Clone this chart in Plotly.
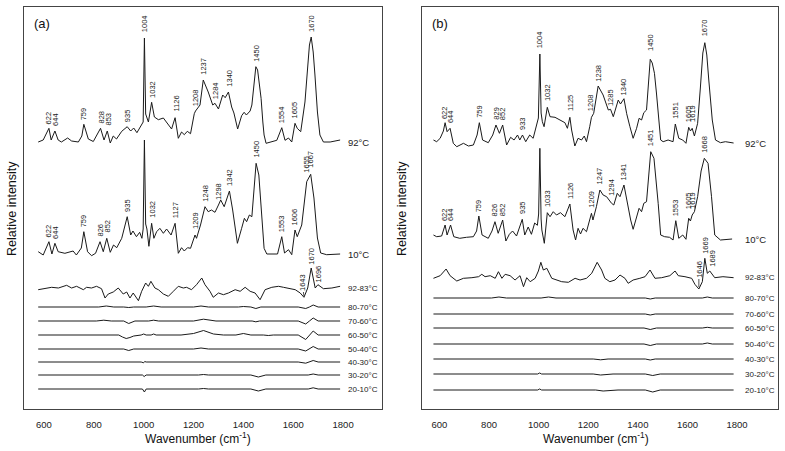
import plotly.graph_objects as go
from plotly.subplots import make_subplots

# ---------------- Panel (a) data ----------------
a92_wn = [577, 597, 620, 629, 644, 657, 670, 695, 711, 738, 752, 760, 778, 798, 827, 841, 854, 866, 878, 891, 912, 934, 948, 960, 973, 989, 998, 1003, 1008, 1019, 1032, 1043, 1059, 1079, 1099, 1112, 1126, 1139, 1152, 1163, 1175, 1188, 1203, 1208, 1226, 1239, 1259, 1277, 1286, 1300, 1317, 1327, 1340, 1353, 1362, 1377, 1393, 1403, 1412, 1427, 1434, 1442, 1450, 1457, 1463, 1471, 1478, 1483, 1491, 1514, 1534, 1554, 1567, 1581, 1594, 1607, 1616, 1630, 1647, 1657, 1665, 1672, 1680, 1687, 1697, 1707, 1721, 1748, 1788]
a92_int = [0, 2, 13.7, 2, 11, 2, 0, 4, 1, 0, 6, 17.7, 3, 0.5, 13.7, 2, 11, -1, 6, 3, 10.7, 15.3, 11, 14, 9.3, 17, 20, 104, 28, 20, 39.7, 25, 22.3, 24, 16.7, 13, 24.3, 3.7, 10, 7.3, 10.7, 8.3, 28.3, 31, 37, 62, 50, 37, 38.7, 33, 47, 44.3, 50, 35, 29, 13, 26.3, 29.7, 27, 31, 37, 60, 75.3, 72, 60, 43.7, 20, 7, -1.3, 0, 1.7, 14.3, 1.7, 4, 0, 18.7, 13.7, 10.3, 40, 72, 97, 105, 90, 67, 30, 7, 0, 0, 2]

a10_wn = [577, 597, 620, 632, 644, 657, 684, 717, 730, 750, 760, 775, 791, 807, 825, 838, 852, 866, 879, 892, 912, 934, 948, 957, 971, 984, 993, 998, 1003, 1008, 1013, 1021, 1032, 1041, 1052, 1065, 1079, 1092, 1110, 1126, 1139, 1152, 1163, 1176, 1188, 1206, 1212, 1228, 1246, 1259, 1272, 1286, 1300, 1309, 1323, 1344, 1357, 1376, 1393, 1404, 1413, 1424, 1434, 1442, 1451, 1462, 1471, 1483, 1494, 1514, 1537, 1554, 1565, 1581, 1594, 1607, 1616, 1634, 1645, 1654, 1662, 1670, 1683, 1697, 1710, 1734, 1788]
a10_int = [2.3, -1, 12.3, 0, 10.7, 2.3, 0.7, 3, -1, 6, 22.3, 2.3, -1.7, 0.7, 12.3, 2.3, 15.7, 1.7, 9, 6.3, 15.7, 37.3, 19, 23, 17.3, 21.7, 15.7, 25, 114, 30, 25, 7.7, 30.7, 15.7, 22.3, 25.7, 20.7, 25, 19, 30.7, 0.7, 6.3, 3, 6.3, 5.7, 19, 15.7, 29, 47.3, 42.3, 44, 41.7, 49, 54, 47.3, 63, 44, 10.7, 25.7, 35.7, 32.3, 39, 37.3, 65, 90.7, 79, 42.3, 5.7, 0, 0, 0, 17.3, 1, 4.3, -0.7, 24, 17.3, 29, 55, 72.3, 76, 79.7, 56, 16, 1, -0.7, 0]

a9283_wn = [577, 631, 658, 691, 711, 731, 758, 771, 791, 811, 831, 845, 858, 878, 898, 918, 932, 945, 958, 979, 992, 1008, 1019, 1029, 1045, 1059, 1079, 1099, 1119, 1139, 1159, 1172, 1192, 1212, 1233, 1246, 1266, 1279, 1300, 1320, 1340, 1367, 1387, 1407, 1427, 1447, 1467, 1487, 1514, 1541, 1561, 1581, 1608, 1628, 1643, 1658, 1672, 1688, 1699, 1721, 1755, 1788]
a9283_int = [-1.7, 0.7, 0, 2.7, 0, 1.7, -1.7, 0.7, 0, 1.7, -0.7, -10, -6, -4, 0, -6, -4, -10, -5, -12.7, -3.3, 5, 1.7, 6.7, 0, -1.7, -6, -8.3, -3.3, 1.7, 0, 0.7, -1.7, 3.3, 10, 3.3, -3.3, -9.3, -5, -6.7, -5, -1.7, -3.3, 0.7, -3.3, -5, -11.7, -1.7, 0.7, 1.7, 0.7, 0, -1.7, -5, -9.3, 0, 20, 0, 3.3, -0.7, 0, 1.7]

a8070_wn = [577, 700, 820, 850, 880, 920, 940, 960, 1010, 1040, 1070, 1200, 1230, 1260, 1330, 1350, 1380, 1400, 1430, 1450, 1470, 1620, 1650, 1665, 1680, 1700, 1788]
a8070_int = [0, 0.3, 0, 1, 0, 0, -0.5, 0, 0, 1, 0, 0, 1, 0, 0, -0.5, 0, 0.5, 0, -1.5, 0, 0, -1.5, 0, 2, 0, 0]
a7060_wn = [577, 810, 840, 870, 920, 940, 965, 1020, 1040, 1060, 1200, 1240, 1290, 1380, 1400, 1420, 1435, 1450, 1465, 1620, 1650, 1665, 1680, 1700, 1788]
a7060_int = [0, 0, 0.8, 0, 0, -2.5, 0, 0, 0.8, 0, 0, 1.8, 0, 0, 0.5, 0, 0, -0.8, 0, 0, -3, 0, 3, 0, 0]
a6050_wn = [577, 680, 700, 720, 900, 915, 930, 945, 960, 990, 1000, 1010, 1030, 1040, 1050, 1150, 1200, 1240, 1280, 1320, 1370, 1400, 1430, 1480, 1500, 1520, 1620, 1650, 1665, 1680, 1700, 1788]
a6050_int = [0, 0, 0.5, 0, 0, -2, -3.5, -2.5, -1, 0, 1, 0, 0, 1, 0, 0, 1.5, 4.5, 1, 0, 0, 1.5, 0, 0, -0.5, 0, 0, -4.5, 0, 4, 0, 0]
a5040_wn = [577, 920, 940, 960, 1200, 1230, 1260, 1620, 1650, 1665, 1680, 1700, 1788]
a5040_int = [0, 0, -1.5, 0, 0, 1, 0, 0, -2, 0, 2.5, 0, 0]
a4030_wn = [577, 990, 1000, 1004, 1010, 1620, 1650, 1665, 1680, 1700, 1788]
a4030_int = [0, 0, -0.8, 0.5, 0, 0, -1.2, 0, 1.5, 0, 0]
a3020_wn = [577, 995, 1002, 1010, 1220, 1240, 1260, 1430, 1460, 1490, 1660, 1680, 1700, 1788]
a3020_int = [0, 0, -1.5, 0, 0, 0.5, 0, 0, -2, 0, 0, 1, 0, 0]
a2010_wn = [577, 995, 1003, 1010, 1220, 1240, 1260, 1430, 1460, 1490, 1660, 1680, 1700, 1788]
a2010_int = [0, 0, -3, 0, 0, 0.5, 0, 0, -2, 0, 0, 1.2, 0, 0]

# ---------------- Panel (b) data ----------------
b92_wn = [576, 589, 603, 616, 623, 631, 643, 656, 670, 697, 717, 737, 752, 761, 774, 797, 815, 828, 842, 855, 871, 887, 901, 915, 924, 935, 948, 964, 978, 991, 999, 1005, 1010, 1015, 1022, 1035, 1046, 1066, 1086, 1106, 1116, 1126, 1133, 1146, 1159, 1173, 1184, 1193, 1206, 1213, 1222, 1240, 1260, 1281, 1290, 1301, 1321, 1330, 1344, 1355, 1368, 1381, 1395, 1405, 1415, 1424, 1435, 1442, 1450, 1458, 1467, 1475, 1482, 1492, 1502, 1522, 1542, 1551, 1565, 1581, 1594, 1605, 1612, 1619, 1628, 1641, 1652, 1662, 1670, 1678, 1686, 1700, 1713, 1733, 1753, 1780, 1786]
b92_int = [3, 1.3, 4.7, 12, 20.3, 11.3, 14.7, -0.3, -3.7, -0.3, -3, -2, 8, 20.3, 3, 0.3, 8, 18, 9.7, 18, -2, 5.7, 3, 8, 3, 8, 1.3, 8, 4.7, 16.3, 25, 89, 30, 21.3, 16.3, 35.7, 26.3, 25.7, 23, 20.3, 14.7, 25.7, 13, -3, 4.7, 3, 7, 1.3, 16.3, 25.7, 29.7, 57, 48, 33, 33.7, 26.3, 43, 39, 44.3, 29.3, 16.3, 4.7, 14.7, 24.7, 23, 30.3, 33, 60, 83.7, 80, 69.7, 50, 29.7, 3, 1.3, 3, 1.3, 19, 4.7, 3, -0.3, 15.7, 12, 14.7, 7, 19.7, 55, 90, 100.3, 88, 63, 23, 3, 0.3, 1.3, -0.3, 0]

b10_wn = [576, 589, 609, 616, 623, 631, 645, 658, 682, 709, 737, 750, 759, 772, 797, 812, 824, 837, 855, 868, 882, 895, 911, 934, 944, 958, 971, 984, 995, 1000, 1005, 1010, 1013, 1023, 1035, 1046, 1059, 1072, 1088, 1106, 1126, 1139, 1149, 1159, 1169, 1179, 1193, 1213, 1219, 1233, 1247, 1260, 1274, 1294, 1303, 1317, 1328, 1344, 1357, 1371, 1381, 1395, 1405, 1415, 1424, 1435, 1443, 1452, 1465, 1474, 1482, 1492, 1508, 1528, 1542, 1553, 1565, 1581, 1594, 1605, 1612, 1619, 1628, 1641, 1655, 1668, 1683, 1697, 1710, 1733, 1780]
b10_int = [4, 2.3, 3, 8, 14, 4, 14, 2.3, 0.7, 1.7, 2.3, 8, 23, 4, 0.7, 8, 17.3, 5.7, 19, -2, 4.7, 8, 3, 19.7, 4, 12, 4.7, 16, 13.7, 25, 90.7, 20, 9, -4.3, 26.3, 22.3, 27.3, 24, 26.3, 22.3, 35, 9, -1, 10.7, 5, 10.7, 7.3, 25.7, 19, 32.3, 49, 44, 42.3, 35.7, 34, 45.7, 42.3, 54, 35.7, 19, 9.7, 20.7, 30.7, 27.3, 35.7, 37.3, 65, 87.3, 80.7, 60, 35.7, 4, 2.3, 1.7, -1, 18.3, 0.7, 4, -0.3, 20.7, 18, 24, 27.3, 42.3, 68, 80.7, 75.7, 42.3, 4, -1, 0]

b9283_wn = [576, 603, 627, 643, 670, 697, 731, 758, 771, 784, 805, 825, 838, 852, 865, 885, 905, 925, 939, 952, 966, 986, 999, 1009, 1019, 1033, 1053, 1073, 1093, 1120, 1147, 1167, 1193, 1214, 1236, 1254, 1267, 1287, 1308, 1328, 1348, 1361, 1381, 1408, 1429, 1449, 1469, 1496, 1529, 1550, 1563, 1590, 1617, 1630, 1646, 1660, 1670, 1680, 1690, 1710, 1743, 1786]
b9283_int = [-1.3, 1.3, 8, 1.3, -4, -1.3, -0.7, 0.3, 2.7, 0.3, 1.3, -1.3, 5.3, -1.3, 2.7, 1.3, -3, 1.3, -9.7, -0.7, -4.7, -1.3, 6, 14.7, 7, 8.7, -1.3, -3, -4.7, -5.3, -1.3, -3, -1.3, 3.7, 14.7, 7, -1.3, -4.7, -3, 2, -1.3, -6.3, -3, -1.3, 0.3, 7, -1.3, -0.7, 1.3, 6, 1.3, 0.3, -1.3, -7.3, -12, -4.7, 18.7, 3.7, 6, -0.7, 0.3, -0.7]

b8070_wn = [576, 810, 840, 870, 1010, 1040, 1070, 1200, 1230, 1260, 1430, 1450, 1470, 1660, 1680, 1700, 1786]
b8070_int = [0, 0, 1, 0, 0, 1, 0, 0, 0.5, 0, 0, -1, 0, 0, 1, 0, 0]
b7060_wn = [576, 1010, 1040, 1070, 1430, 1450, 1470, 1786]
b7060_int = [0, 0, 0.5, 0, 0, -1, 0, 0]
b6050_wn = [576, 1210, 1240, 1270, 1425, 1450, 1475, 1660, 1680, 1700, 1786]
b6050_int = [0, 0, 0.7, 0, 0, -1.5, 0, 0, 0.7, 0, 0]
b5040_wn = [576, 1425, 1450, 1475, 1660, 1680, 1700, 1786]
b5040_int = [0, 0, -1.5, 0, 0, 1, 0, 0]
b4030_wn = [576, 1220, 1250, 1280, 1430, 1450, 1470, 1786]
b4030_int = [0, 0, -0.8, 0, 0, -1, 0, 0]
b3020_wn = [576, 996, 1004, 1012, 1220, 1250, 1300, 1430, 1460, 1490, 1786]
b3020_int = [0, 0, 1, 0, 0, -1, 0, 0, -1.5, 0, 0]
b2010_wn = [576, 996, 1004, 1012, 1230, 1260, 1320, 1430, 1460, 1490, 1786]
b2010_int = [0, 0, 1, 0, 0, -1, 0, 0, -2, 0, 0]

# vertical offsets of each trace (stacking)
a_offsets = [267, 155, 121, 102, 88, 74, 60, 47, 34, 20]
b_offsets = [266, 170, 132, 111, 95, 81, 65, 50, 35, 19]
trace_names = ["92°C", "10°C", "92-83°C", "80-70°C", "70-60°C", "60-50°C",
               "50-40°C", "40-30°C", "30-20°C", "20-10°C"]

# peak labels: text, x position, height of label bottom above baseline
a92_lab = [("622", 620, 17), ("644", 646, 15), ("759", 760, 21), ("828", 829, 17),
           ("853", 857, 15), ("935", 936, 19), ("1004", 1004, 109), ("1032", 1035, 43),
           ("1126", 1128, 29), ("1208", 1209, 35), ("1237", 1239, 66), ("1284", 1289, 42),
           ("1340", 1343, 54), ("1450", 1452, 79), ("1554", 1554, 18), ("1605", 1607, 23),
           ("1670", 1673, 109)]
a10_lab = [("622", 620, 16), ("644", 646, 14), ("759", 760, 26), ("826", 825, 16),
           ("852", 853, 20), ("935", 935, 41), ("1032", 1034, 35), ("1127", 1127, 35),
           ("1209", 1208, 24), ("1248", 1247, 51), ("1298", 1300, 53), ("1342", 1344, 67),
           ("1450", 1451, 95), ("1553", 1554, 21), ("1606", 1607, 28), ("1655", 1652, 80),
           ("1667", 1668, 85)]
a9283_lab = [("1670", 1672, 22), ("1696", 1703, 5)]
b92_lab = [("622", 621, 23), ("644", 645, 19), ("759", 761, 24), ("829", 829, 22),
           ("852", 855, 22), ("933", 935, 12), ("1004", 1005, 94), ("1032", 1036, 41),
           ("1125", 1126, 31), ("1208", 1210, 31), ("1238", 1240, 60), ("1285", 1290, 36),
           ("1340", 1344, 47), ("1450", 1451, 91), ("1551", 1551, 23), ("1605", 1605, 20),
           ("1619", 1620, 20), ("1670", 1670, 106)]
b10_lab = [("622", 621, 17), ("644", 645, 17), ("759", 759, 26), ("826", 824, 22),
           ("852", 855, 22), ("935", 935, 24), ("1033", 1036, 31), ("1126", 1126, 39),
           ("1209", 1212, 30), ("1247", 1247, 54), ("1294", 1293, 42), ("1341", 1344, 58),
           ("1451", 1452, 92), ("1553", 1553, 22), ("1605", 1605, 29), ("1619", 1620, 29),
           ("1668", 1668, 85)]
b9283_lab = [("1669", 1672, 22), ("1689", 1700, 9)]

FONT = "Liberation Sans, Arial, sans-serif"
LINE = "#1a1a1a"

fig = make_subplots(rows=1, cols=2)

a_series = [(a92_wn, a92_int), (a10_wn, a10_int), (a9283_wn, a9283_int),
            (a8070_wn, a8070_int), (a7060_wn, a7060_int), (a6050_wn, a6050_int),
            (a5040_wn, a5040_int), (a4030_wn, a4030_int), (a3020_wn, a3020_int),
            (a2010_wn, a2010_int)]
b_series = [(b92_wn, b92_int), (b10_wn, b10_int), (b9283_wn, b9283_int),
            (b8070_wn, b8070_int), (b7060_wn, b7060_int), (b6050_wn, b6050_int),
            (b5040_wn, b5040_int), (b4030_wn, b4030_int), (b3020_wn, b3020_int),
            (b2010_wn, b2010_int)]

annotations = []


def add_panel(series, offsets, col, xref, yref, label_x):
    for i, ((wn, val), off) in enumerate(zip(series, offsets)):
        fig.add_trace(go.Scatter(x=wn, y=[v + off for v in val], mode="lines",
                                 line=dict(color=LINE, width=1), showlegend=False,
                                 hoverinfo="skip"), row=1, col=col)
        annotations.append(dict(x=label_x, y=off, xref=xref, yref=yref, text=trace_names[i],
                                showarrow=False, xanchor="left", yanchor="middle",
                                font=dict(family=FONT, size=9.5 if i < 2 else 8, color="#222")))


def add_labels(labs, off, xref, yref):
    for t, x, h in labs:
        annotations.append(dict(x=x, y=off + h, xref=xref, yref=yref, text=t, textangle=-90,
                                showarrow=False, xanchor="center", yanchor="bottom",
                                borderpad=0, font=dict(family=FONT, size=7.5, color="#222")))


add_panel(a_series, a_offsets, 1, "x", "y", 1812)
add_panel(b_series, b_offsets, 2, "x2", "y2", 1822)
add_labels(a92_lab, a_offsets[0], "x", "y")
add_labels(a10_lab, a_offsets[1], "x", "y")
add_labels(a9283_lab, a_offsets[2], "x", "y")
add_labels(b92_lab, b_offsets[0], "x2", "y2")
add_labels(b10_lab, b_offsets[1], "x2", "y2")
add_labels(b9283_lab, b_offsets[2], "x2", "y2")

# labels with leader lines to the negative bands
annotations.append(dict(x=1643, y=a_offsets[2] - 8, xref="x", yref="y", text="1643",
                        textangle=-90, showarrow=True, arrowhead=0, arrowwidth=0.8,
                        arrowcolor="#222", ax=-2, ay=-14, font=dict(family=FONT, size=7.5, color="#222")))
annotations.append(dict(x=1646, y=b_offsets[2] - 10, xref="x2", yref="y2", text="1646",
                        textangle=-90, showarrow=True, arrowhead=0, arrowwidth=0.8,
                        arrowcolor="#222", ax=0, ay=-18, font=dict(family=FONT, size=7.5, color="#222")))

# panel letters and axis titles
annotations += [
    dict(x=0.0106, y=0.958, xref="paper", yref="paper", text="(a)", showarrow=False,
         xanchor="left", yanchor="middle", font=dict(family=FONT, size=13, color="#111")),
    dict(x=0.5385, y=0.958, xref="paper", yref="paper", text="(b)", showarrow=False,
         xanchor="left", yanchor="middle", font=dict(family=FONT, size=13, color="#111")),
    dict(x=-0.016, y=0.5, xref="paper", yref="paper", text="Relative intensity",
         textangle=-90, showarrow=False, xanchor="center", yanchor="middle",
         font=dict(family=FONT, size=12.5, color="#111")),
    dict(x=0.5013, y=0.5, xref="paper", yref="paper", text="Relative intensity",
         textangle=-90, showarrow=False, xanchor="center", yanchor="middle",
         font=dict(family=FONT, size=12.5, color="#111")),
    dict(x=0.2308, y=-0.072, xref="paper", yref="paper", text="Wavenumber (cm<sup>-1</sup>)",
         showarrow=False, xanchor="center", yanchor="middle",
         font=dict(family=FONT, size=12, color="#111")),
    dict(x=0.7586, y=-0.072, xref="paper", yref="paper", text="Wavenumber (cm<sup>-1</sup>)",
         showarrow=False, xanchor="center", yanchor="middle",
         font=dict(family=FONT, size=12, color="#111")),
]

tickvals = [600, 800, 1000, 1200, 1400, 1600, 1800]
xaxis_common = dict(tickvals=tickvals, ticktext=[str(v) for v in tickvals], showgrid=False,
                    zeroline=False, showline=True, mirror=True, linecolor="#444", linewidth=1.4,
                    ticks="", ticklabelstandoff=6, automargin=False,
                    tickfont=dict(family=FONT, size=9.5, color="#222"))
yaxis_common = dict(range=[0, 402], showgrid=False, zeroline=False, showticklabels=False,
                    showline=True, mirror=True, linecolor="#444", linewidth=1.4, ticks="",
                    automargin=False)

fig.update_layout(
    width=785, height=451,
    margin=dict(l=24, r=7, t=7, b=42, autoexpand=False),
    paper_bgcolor="white", plot_bgcolor="white",
    xaxis=dict(domain=[0, 0.4748], range=[520, 1956], **xaxis_common),
    xaxis2=dict(domain=[0.5279, 1], range=[530, 1965], **xaxis_common),
    yaxis=dict(domain=[0, 1], **yaxis_common),
    yaxis2=dict(domain=[0, 1], **yaxis_common),
    annotations=annotations,
    showlegend=False,
)

# remove the page's default body margin so the figure sits at the window origin
fig.write_html("out.html", config={"displayModeBar": False},
               post_script="document.body.style.margin='0px';")
